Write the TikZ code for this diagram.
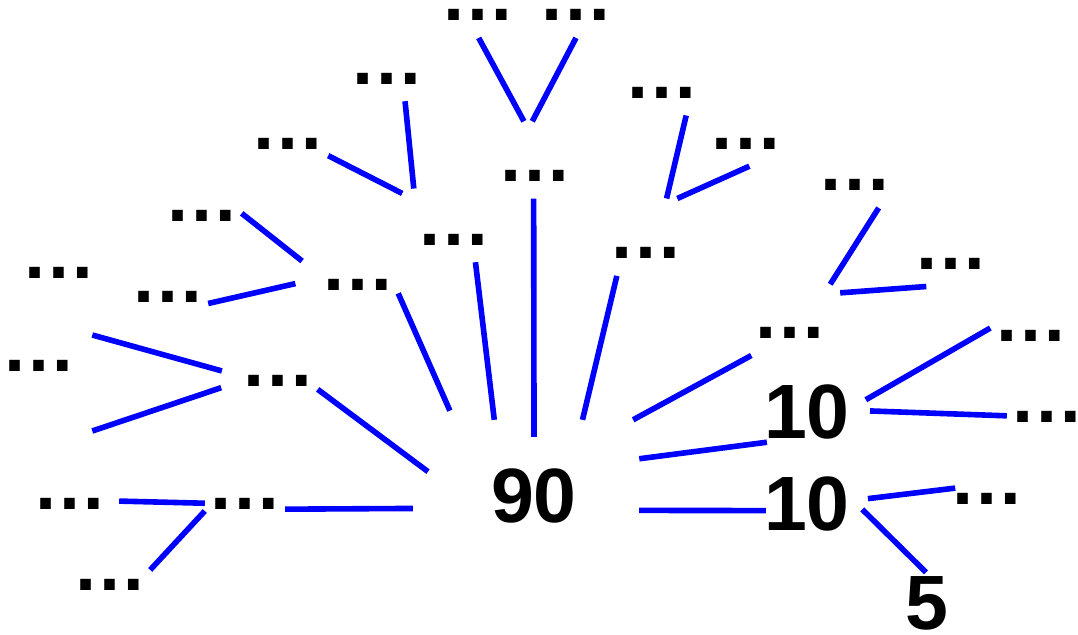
\documentclass[tikz,border=0pt]{standalone}
\usepackage{fontspec}
\setmainfont{Liberation Sans}
\usepackage{tikz}
\definecolor{treeblue}{HTML}{0000FF}

\begin{document}
\begin{tikzpicture}[x=1pt,y=-1pt,
  dots/.style={font=\fontsize{75}{90}\selectfont\bfseries,inner sep=0pt,minimum width=80pt,text height=60pt,text depth=17pt,anchor=base},
  num/.style={font=\fontsize{77}{92}\selectfont\bfseries,inner xsep=8pt,inner ysep=10pt,text height=55pt,text depth=0pt,anchor=base},
  edge/.style={treeblue,line width=5.6pt}]
\useasboundingbox (0,0) rectangle (1078,634);
\node[num,minimum width=226pt,minimum height=149pt] (r) at (534,522) {90};
\node[num] (ta) at (807,438) {10};
\node[num] (tb) at (807,530) {10};
\node[num,inner ysep=2pt] (tbb) at (927,629.5) {5};
\node[dots] (j) at (535,181.5) {…};
\node[dots] (ja) at (478,20.7) {…};
\node[dots] (jb) at (576,20.7) {…};
\node[dots] (i) at (454,245) {…};
\node[dots] (ia) at (387,84) {…};
\node[dots] (ib) at (288,149) {…};
\node[dots] (h) at (358,290.7) {…};
\node[dots] (ha) at (201.5,221) {…};
\node[dots] (hb) at (168,302.7) {…};
\node[dots] (q) at (277.5,386.7) {…};
\node[dots] (la) at (59,278.3) {…};
\node[dots] (lb) at (39,371.7) {…};
\coordinate (qx1) at (92.3,335);
\coordinate (qx2) at (92.3,431);
\node[dots] (s) at (245,509.3) {…};
\node[dots] (sa) at (70,509.3) {…};
\node[dots] (sb) at (110,590.7) {…};
\node[dots] (m) at (646,258.7) {…};
\node[dots] (ma) at (662,98.3) {…};
\node[dots] (mb) at (746,149) {…};
\node[dots] (u) at (790,338.3) {…};
\node[dots] (ua) at (854.5,190.7) {…};
\node[dots] (ub) at (950.5,269.3) {…};
\node[dots] (taa) at (1030.5,341) {…};
\node[dots] (tab) at (1047,422.7) {…};
\node[dots] (tba) at (986.5,504.3) {…};
\draw[edge] (ja.-89) -- (j.106);
\draw[edge] (jb.-90) -- (j.94);
\draw[edge,shorten >=-17pt] (j.-92) -- (r.90);
\draw[edge] (ia.-65) -- (i.139);
\draw[edge,shorten >=13pt] (ib.-35) -- (i.149);
\draw[edge] (i.-61) -- (r.118);
\draw[edge,shorten >=20pt] (ha.-19) -- (h.186);
\draw[edge,shorten >=23pt] (hb.-29) -- (h.193);
\draw[edge,shorten >=10pt] (h.-31) -- (r.137);
\draw[edge,shorten >=-9pt] (q.-31) -- (r.166);
\draw[edge,shorten <=16pt] (q.194) -- (qx1);
\draw[edge,shorten <=17pt] (q.203) -- (qx2);
\draw[edge,shorten <=9pt] (sa.-18) -- (s.201);
\draw[edge] (sb.-1) -- (s.210);
\draw[edge,shorten >=8pt] (s.-28) -- (r.187);
\draw[edge] (ma.-58) -- (m.62);
\draw[edge] (mb.-85) -- (m.51);
\draw[edge] (m.-127) -- (r.57);
\draw[edge] (ua.-58) -- (u.39);
\draw[edge,shorten >=10pt] (ub.-122) -- (u.30);
\draw[edge] (u.-135) -- (r.37);
\draw[edge,shorten <=-11pt,shorten >=-8pt] (ta.213) -- (r.18);
\draw[edge,shorten <=-10pt,shorten >=-8pt] (tb.189) -- (r.-8);
\draw[edge,shorten >=9pt] (taa.192) -- (ta.7);
\draw[edge,shorten >=12pt] (tab.200) -- (ta.0);
\draw[edge,shorten <=-9pt,shorten >=10pt] (tba.189) -- (tb.3);
\draw[edge,shorten >=6pt] (tbb.92) -- (tb.-3);
\end{tikzpicture}
\end{document}
